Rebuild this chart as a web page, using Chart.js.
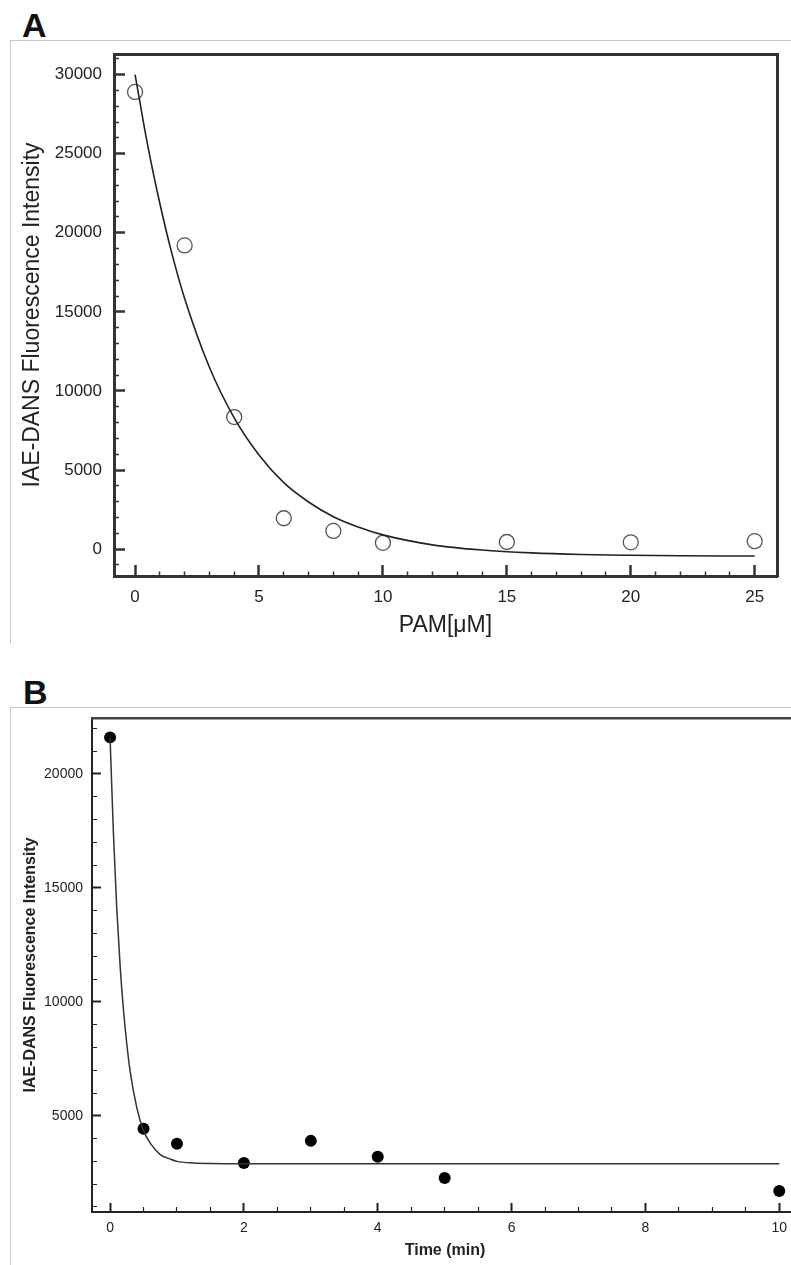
<!DOCTYPE html>
<html>
<head>
<meta charset="utf-8">
<title>IAE-DANS fluorescence</title>
<script src="https://cdn.jsdelivr.net/npm/chart.js@4.4.1/dist/chart.umd.min.js"></script>
<style>
  html, body { margin: 0; padding: 0; background: #fff; }
  body { width: 791px; height: 1265px; overflow: hidden; position: relative; }
  .panel-label { position: absolute; font: bold 34px "Liberation Sans", Arial, sans-serif; line-height: 34px; color: #111; }
  .frame { position: absolute; border-top: 1px solid #c8c8c8; border-left: 1px solid #c8c8c8; }
  .box { position: absolute; }
</style>
</head>
<body>
<div class="panel-label" style="left:22px;top:8px">A</div>
<div class="frame" style="left:10px;top:40px;width:800px;height:603px"></div>
<div class="box" style="left:10px;top:40px;width:781px;height:603px"><canvas id="chartA"></canvas></div>

<div class="panel-label" style="left:23px;top:675px">B</div>
<div class="frame" style="left:10px;top:707px;width:800px;height:600px"></div>
<div class="box" style="left:10px;top:707px;width:795px;height:558px"><canvas id="chartB"></canvas></div>

<script>
// panel A: titration with PAM
const pamConc = [0, 2, 4, 6, 8, 10, 15, 20, 25];
const pamIntensity = [28900, 19200, 8350, 1950, 1150, 400, 450, 430, 500];
const pamFitX = [0, 0.5, 1, 1.5, 2, 3, 4, 5, 6, 7, 8, 9, 10, 12, 14, 16, 18, 20, 22, 25];
const pamFitY = [30000, 25600, 21850, 18600, 15850, 11500, 8300, 5950, 4200, 2980, 2050, 1400, 900, 270, -60, -240, -340, -390, -420, -440];
const pamXLabels = [0, 5, 10, 15, 20, 25];
const pamYLabels = [0, 5000, 10000, 15000, 20000, 25000, 30000];

// panel B: time course
const timeMin = [0, 0.5, 1, 2, 3, 4, 5, 10];
const timeIntensity = [21600, 4430, 3770, 2930, 3900, 3200, 2270, 1700];
const timeFitX = [0, 0.05, 0.1, 0.15, 0.2, 0.25, 0.3, 0.4, 0.5, 0.6, 0.75, 0.9, 1, 1.25, 1.5, 2, 4, 6, 8, 10];
const timeFitY = [21600, 17400, 14100, 11600, 9650, 8150, 6950, 5350, 4350, 3800, 3300, 3100, 3000, 2930, 2910, 2900, 2900, 2900, 2900, 2900];
const timeXLabels = [0, 2, 4, 6, 8, 10];
const timeYLabels = [5000, 10000, 15000, 20000];

const yTitle = 'IAE-DANS Fluorescence Intensity';

Chart.defaults.font.family = '"Liberation Sans", Arial, Helvetica, sans-serif';
Chart.defaults.color = '#222';

const toPoints = (xs, ys) => xs.map((x, i) => ({ x, y: ys[i] }));
const hasLabel = (labels, v) => labels.some((l) => Math.abs(l - v) < 1e-6);

// every minor step gets a tick mark, labelled ones are drawn longer
function minorTicks(step) {
  return (scale) => {
    const ticks = [];
    for (let v = Math.ceil(scale.min / step) * step; v <= scale.max + 1e-9; v += step) {
      ticks.push({ value: Math.round(v * 1000) / 1000 });
    }
    scale.ticks = ticks;
  };
}

// ticks point into the plot; minor ones are shortened with a dash pattern
function tickGrid(labels, len, majorW, minorW, minorDash, color) {
  return {
    drawOnChartArea: false,
    drawTicks: true,
    tickLength: -len,
    tickColor: color,
    tickWidth: (ctx) => hasLabel(labels, ctx.tick.value) ? majorW : minorW,
    tickBorderDash: (ctx) => hasLabel(labels, ctx.tick.value) ? [] : minorDash
  };
}

function frameScale(axis, position, width, color) {
  return {
    axis, position, min: 0, max: 1,
    grid: { drawOnChartArea: false, drawTicks: false },
    ticks: { display: false },
    border: { display: true, width, color }
  };
}

const fixWidth = (w) => (s) => { s.width = w; s.paddingTop = 0; s.paddingBottom = 0; };
const fixHeight = (h) => (s) => { s.height = h; s.paddingLeft = 0; s.paddingRight = 0; };

const baseOptions = {
  responsive: true,
  maintainAspectRatio: false,
  animation: false,
  events: [],
  plugins: { legend: { display: false }, tooltip: { enabled: false } }
};

new Chart(document.getElementById('chartA'), {
  type: 'scatter',
  data: {
    datasets: [{
      type: 'line',
      data: toPoints(pamFitX, pamFitY),
      borderColor: '#222',
      borderWidth: 1.6,
      pointRadius: 0,
      cubicInterpolationMode: 'monotone',
      fill: false
    }, {
      data: toPoints(pamConc, pamIntensity),
      pointRadius: 7.5,
      borderColor: '#555',
      borderWidth: 1.3,
      backgroundColor: 'rgba(255,255,255,0)'
    }]
  },
  options: {
    ...baseOptions,
    layout: { padding: { top: 14, right: 14, left: 0, bottom: 0 } },
    scales: {
      x: {
        min: -0.85, max: 25.9,
        afterBuildTicks: minorTicks(1),
        ticks: {
          padding: 22, font: { size: 17 }, maxRotation: 0, autoSkip: false,
          callback: (v) => hasLabel(pamXLabels, v) ? String(v) : ''
        },
        grid: tickGrid(pamXLabels, 11, 2.5, 1.5, [6.5, 100], '#333'),
        border: { display: true, width: 3, color: '#333' },
        title: { display: true, text: 'PAM[\u03bcM]', font: { size: 23 }, padding: { top: 0, bottom: 4 } },
        afterFit: fixHeight(67)
      },
      y: {
        min: -1700, max: 31300,
        afterBuildTicks: minorTicks(1000),
        ticks: {
          padding: 23, font: { size: 17 }, autoSkip: false,
          callback: (v) => hasLabel(pamYLabels, v) ? String(v) : ''
        },
        grid: tickGrid(pamYLabels, 11, 2.5, 1.5, [0, 6, 100, 0], '#333'),
        border: { display: true, width: 3, color: '#333' },
        title: { display: true, text: yTitle, font: { size: 23 }, padding: { top: 9, bottom: 0 } },
        afterFit: fixWidth(104)
      },
      x2: frameScale('x', 'top', 3, '#333'),
      y2: frameScale('y', 'right', 3, '#333')
    }
  }
});

new Chart(document.getElementById('chartB'), {
  type: 'scatter',
  data: {
    datasets: [{
      type: 'line',
      data: toPoints(timeFitX, timeFitY),
      borderColor: '#333',
      borderWidth: 1.5,
      pointRadius: 0,
      cubicInterpolationMode: 'monotone',
      fill: false
    }, {
      data: toPoints(timeMin, timeIntensity),
      pointRadius: 6,
      borderWidth: 0,
      backgroundColor: '#000'
    }]
  },
  options: {
    ...baseOptions,
    layout: { padding: { top: 11, right: 7, left: 0, bottom: 0 } },
    scales: {
      x: {
        min: -0.27, max: 10.28,
        afterBuildTicks: minorTicks(0.5),
        ticks: {
          padding: 17, font: { size: 14 }, maxRotation: 0, autoSkip: false,
          callback: (v) => hasLabel(timeXLabels, v) ? String(v) : ''
        },
        grid: tickGrid(timeXLabels, 9, 2, 1.2, [6, 100], '#222'),
        border: { display: true, width: 2, color: '#222' },
        title: { display: true, text: 'Time (min)', font: { size: 16, weight: 'bold' }, padding: { top: 0, bottom: 5 } },
        afterFit: fixHeight(53)
      },
      y: {
        min: 780, max: 22450,
        afterBuildTicks: minorTicks(1000),
        ticks: {
          padding: 18, font: { size: 14 }, autoSkip: false,
          callback: (v) => hasLabel(timeYLabels, v) ? String(v) : ''
        },
        grid: tickGrid(timeYLabels, 9, 2, 1.2, [0, 4, 100, 0], '#222'),
        border: { display: true, width: 2, color: '#222' },
        title: { display: true, text: yTitle, font: { size: 16, weight: 'bold' }, padding: { top: 11, bottom: 0 } },
        afterFit: fixWidth(82)
      },
      x2: frameScale('x', 'top', 2.5, '#444'),
      y2: frameScale('y', 'right', 2, '#444')
    }
  }
});
</script>
</body>
</html>
